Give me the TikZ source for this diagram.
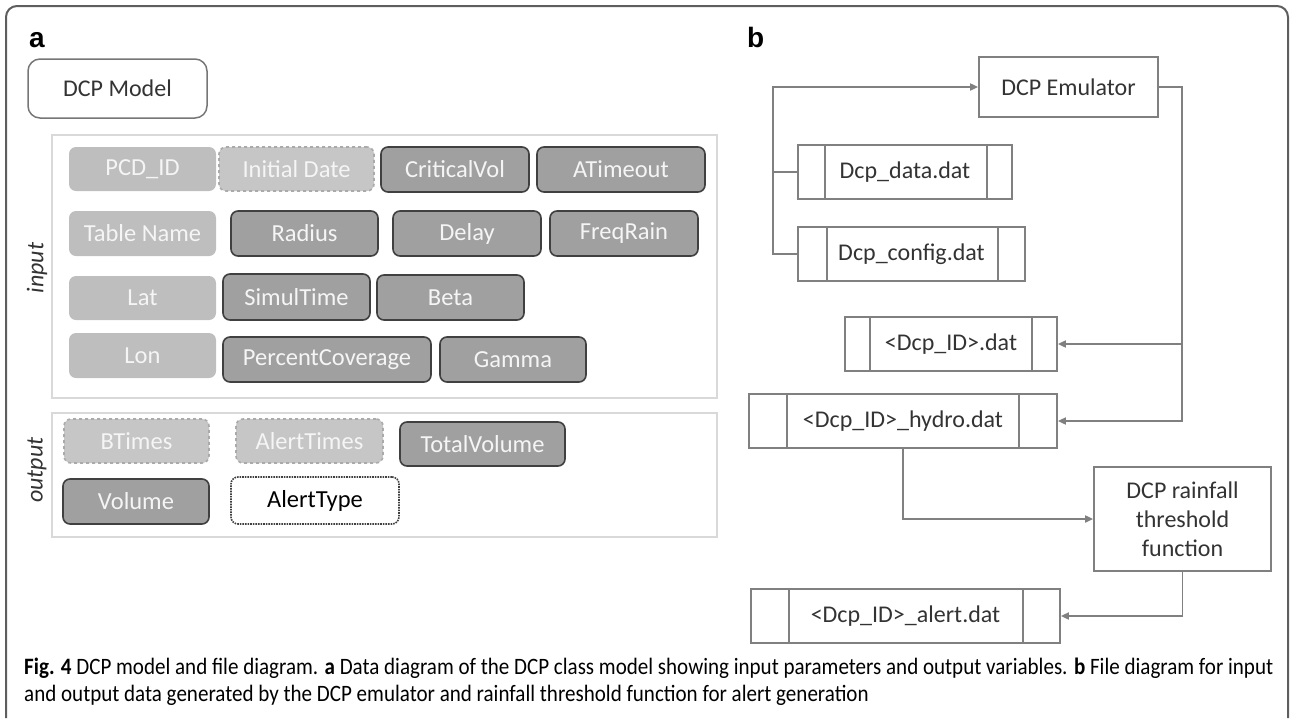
\documentclass[tikz,border=0pt]{standalone}
\usepackage{fontspec}
\setmainfont{Carlito}
\newfontfamily\letterfont{Liberation Sans}
\usetikzlibrary{arrows.meta,calc}

\definecolor{framegray}{HTML}{5E5E5E}
\definecolor{panelline}{HTML}{D9D9D9}
\definecolor{keyfill}{HTML}{BEBEBE}
\definecolor{optfill}{HTML}{C6C6C6}
\definecolor{optline}{HTML}{AAAAAA}
\definecolor{parfill}{HTML}{A0A0A0}
\definecolor{parline}{HTML}{404040}
\definecolor{paletext}{HTML}{F5F5F5}
\definecolor{flowgray}{HTML}{808080}
\definecolor{ink}{HTML}{333333}

% box given by its corners: style, name, x1, y1, x2, y2, text
\newcommand\cell[7]{%
  \node[#1, minimum width={#5-#3}, minimum height={#6-#4}] (#2)
    at ({(#3+#5)/2},{(#4+#6)/2}) {#7};}
% data file box with two inner bars: name, x1, y1, x2, y2, left bar, right bar, text
\newcommand\filebox[8]{%
  \node[filenode, minimum width={#4-#2}, minimum height={#5-#3}] (#1)
    at ({(#2+#4)/2},{(#3+#5)/2}) {#8};
  \draw[flowline] ([xshift=#6]#1.north west) -- ([xshift=#6]#1.south west);
  \draw[flowline] ([xshift=-#7]#1.north east) -- ([xshift=-#7]#1.south east);}

% caption lines, set once and narrowed by a common factor
\newsavebox\caplineone
\newsavebox\caplinetwo
\newcommand\capsize{\fontsize{23.5}{27}\selectfont}
\AtBeginDocument{%
  \sbox\caplineone{\capsize\textbf{Fig. 4} DCP model and file diagram. \textbf{a} Data diagram of the DCP class model showing input parameters and output variables. \textbf{b} File diagram for input}%
  \sbox\caplinetwo{\capsize and output data generated by the DCP emulator and rainfall threshold function for alert generation}}

\begin{document}
\begin{tikzpicture}[x=1pt,y=-1pt,
  cellbase/.style={rounded corners=7, inner sep=0pt, line width=1.6pt,
    font=\fontsize{24.5}{28}\selectfont},
  keybox/.style={cellbase, fill=keyfill, text=paletext},
  optbox/.style={cellbase, fill=optfill, draw=optline, dashed, text=paletext},
  parbox/.style={cellbase, fill=parfill, draw=parline, text=paletext},
  outbox/.style={cellbase, fill=white, draw=parline, densely dotted, text=black},
  groupbox/.style={draw=panelline, line width=1.6pt, inner sep=0pt},
  modelbox/.style={draw=framegray!85, rounded corners=12, line width=1.5pt,
    inner sep=0pt, text=ink, font=\fontsize{24}{28}\selectfont},
  sidelabel/.style={rotate=90, text=ink, font=\fontsize{24}{28}\selectfont\itshape},
  panelletter/.style={anchor=base west, inner sep=0pt,
    font=\fontsize{28}{32}\selectfont\letterfont\bfseries},
  flowline/.style={draw=flowgray, line width=1.7pt},
  filenode/.style={flowline, inner sep=0pt, text=ink,
    font=\fontsize{24}{28}\selectfont},
  arrowline/.style={flowline, -{Triangle[length=8pt,width=7pt]}},
  captext/.style={anchor=base west, inner sep=0pt, text=black}]

\useasboundingbox (0,0) rectangle (1292,718);

\pgfmathsetmacro\capscale{1249/\the\wd\caplineone}

% outer frame, open at the bottom
\draw[framegray, line width=2pt, rounded corners=11] (6,718) -- (6,6) -- (1288,6) -- (1288,718);

% ---------- panel a: class model ----------
\node[panelletter] (la) at (29,47) {a};
\cell{modelbox}{model}{28}{59}{207}{118}{DCP Model}

\cell{groupbox}{ingroup}{52}{135}{717}{398}{}
\cell{groupbox}{outgroup}{52}{413}{717}{537}{}
\node[sidelabel] (inlabel) at (37,268) {input};
\node[sidelabel] (outlabel) at (37,470) {output};

% input parameters
\cell{keybox}{pcd}{69}{147}{216}{191}{PCD\_ID}
\cell{optbox}{idate}{219}{147}{374}{191}{Initial Date}
\cell{parbox}{cvol}{381}{147}{529}{192}{CriticalVol}
\cell{parbox}{atime}{537}{147}{705}{192}{ATimeout}

\cell{keybox}{tname}{69}{211}{216}{256}{Table Name}
\cell{parbox}{radius}{231}{211}{378}{256}{Radius}
\cell{parbox}{delay}{393}{211}{541}{256}{Delay}
\cell{parbox}{freq}{550}{211}{698}{256}{FreqRain}

\cell{keybox}{lat}{69}{276}{216}{320}{Lat}
\cell{parbox}{simul}{223}{274}{370}{320}{SimulTime}
\cell{parbox}{beta}{377}{275}{524}{320}{Beta}

\cell{keybox}{lon}{69}{333}{216}{378}{Lon}
\cell{parbox}{pcov}{223}{337}{431}{382}{PercentCoverage}
\cell{parbox}{gamma}{440}{337}{586}{382}{Gamma}

% output variables
\cell{optbox}{btimes}{64}{419}{209}{463}{BTimes}
\cell{optbox}{atimes}{236}{419}{383}{463}{AlertTimes}
\cell{parbox}{tvol}{400}{422}{565}{466}{TotalVolume}
\cell{parbox}{vol}{63}{479}{209}{524}{Volume}
\cell{outbox}{atype}{231}{477}{399}{524}{AlertType}

% ---------- panel b: file flow ----------
\node[panelletter] (lb) at (747,47) {b};

\node[filenode, minimum width=179, minimum height=60] (emu) at (1068.5,87) {DCP Emulator};
\filebox{data}{798}{145}{1012}{199}{28}{26}{Dcp\_data.dat}
\filebox{cfg}{798}{227}{1025}{281}{30}{28}{Dcp\_config.dat}
\filebox{idf}{845}{317}{1057}{371}{26}{26}{<Dcp\_ID>.dat}
\filebox{hyd}{749}{394}{1057}{448}{39}{39}{<Dcp\_ID>\_hydro.dat}
\node[filenode, minimum width=177, minimum height=104, align=center,
  font=\fontsize{24}{29}\selectfont] (rain) at (1182.5,519)
  {DCP rainfall\\threshold\\function};
\filebox{alert}{751}{589}{1060}{643}{39}{38}{<Dcp\_ID>\_alert.dat}

% inputs feeding the emulator
\draw[flowline] (data.west) -- ++(-24,0);
\draw[arrowline] (cfg.west) -- ++(-24,0) |- (emu.west);

% emulator outputs
\coordinate (outbus) at ($(emu.east)+(23,0)$);
\draw[arrowline] (emu.east) -- (outbus) |- (hyd.east);
\draw[arrowline] (outbus |- idf.east) -- (idf.east);

% threshold function
\draw[arrowline] (hyd.south) |- (rain.west);
\draw[arrowline] (rain.south) |- (alert.east);

% ---------- caption ----------
\node[captext] (cap1) at (24,674) {\scalebox{\capscale}[1]{\usebox\caplineone}};
\node[captext] (cap2) at (24,701) {\scalebox{\capscale}[1]{\usebox\caplinetwo}};

\end{tikzpicture}
\end{document}
